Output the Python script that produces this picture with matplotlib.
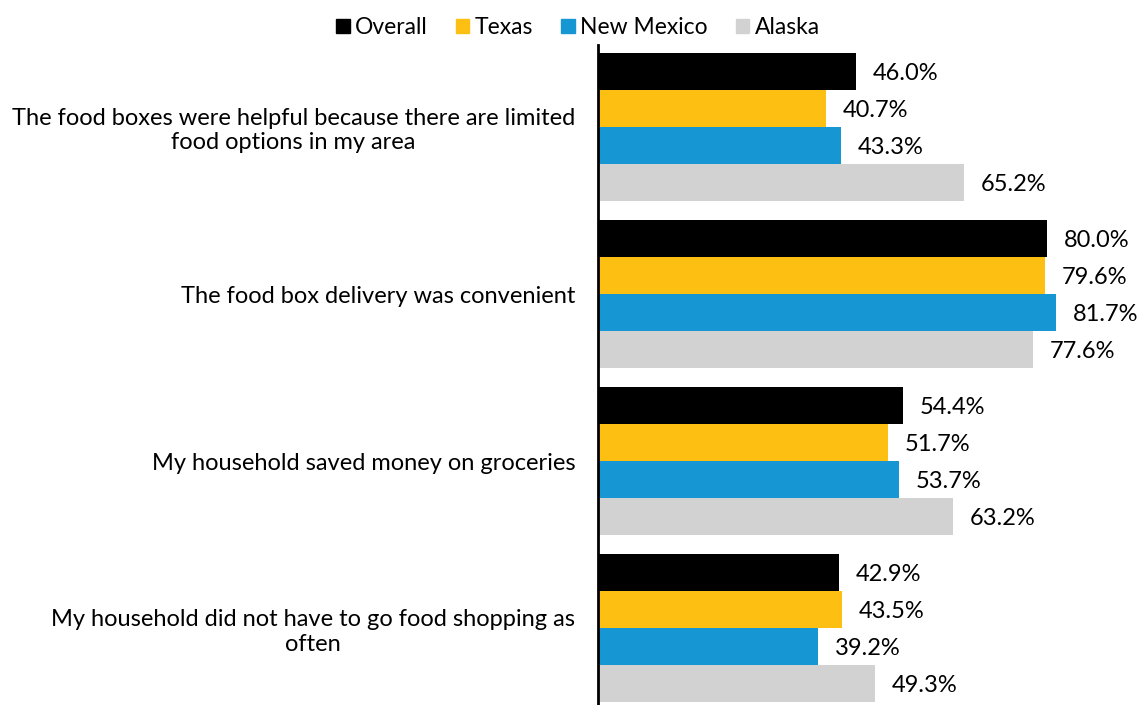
import numpy as np
import matplotlib.pyplot as plt
from matplotlib.patches import Patch

plt.rcParams['font.family'] = ['Lato', 'DejaVu Sans']

statements = [
    "The food boxes were helpful because there are limited\nfood options in my area",
    "The food box delivery was convenient",
    "My household saved money on groceries",
    "My household did not have to go food shopping as\noften",
]
series_names = ["Overall", "Texas", "New Mexico", "Alaska"]
overall = [46.0, 80.0, 54.4, 42.9]
texas = [40.7, 79.6, 51.7, 43.5]
new_mexico = [43.3, 81.7, 53.7, 39.2]
alaska = [65.2, 77.6, 63.2, 49.3]

colors = ["#000000", "#fdbf11", "#1696d2", "#d2d2d2"]

fig = plt.figure(figsize=(11.4, 7.05), dpi=100)
ax = fig.add_axes([0.5246, 0.0, 0.4754, 0.936])

y = np.arange(len(statements))
bar_h = 0.2216
for i, (vals, color, name) in enumerate(zip([overall, texas, new_mexico, alaska], colors, series_names)):
    pos = y + (i - 1.5) * bar_h
    ax.barh(pos, vals, height=bar_h, color=color, label=name)
    for p, v in zip(pos, vals):
        ax.text(v + 3.0, p + 0.01, f"{v:.1f}%", va="center", ha="left", fontsize=17)

ax.set_xlim(0, 96.6)
ax.set_ylim(3.46, -0.49)
ax.set_yticks(y)
ax.set_yticklabels(statements, fontsize=17, ha="right", multialignment="center")
ax.tick_params(axis="y", length=0, pad=16.5)
ax.set_xticks([])
for side in ["top", "right", "bottom"]:
    ax.spines[side].set_visible(False)
ax.spines["left"].set_linewidth(2)

handles = [Patch(color=c, label=n) for c, n in zip(colors, series_names)]
fig.legend(handles=handles, loc="center", bbox_to_anchor=(0.507, 0.961), ncol=4,
           frameon=False, fontsize=16.5, handlelength=0.6, handleheight=0.6,
           handletextpad=0.25, columnspacing=1.2)

fig.savefig("out.png", dpi=100)
